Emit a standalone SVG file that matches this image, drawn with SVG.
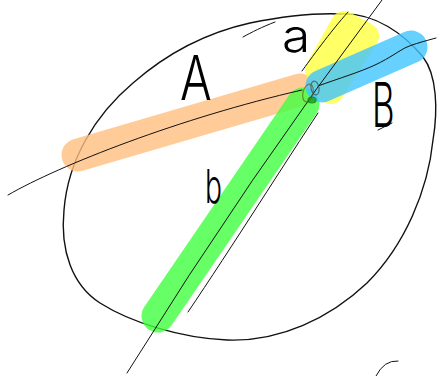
<svg xmlns="http://www.w3.org/2000/svg" width="438" height="376" viewBox="0 0 438 376">
<style>
.bar{fill:none;stroke-linecap:round;opacity:0.8}
.thin{fill:none;stroke:#111;stroke-width:1;stroke-linecap:round}
.lbl{font-family:Inter,"DejaVu Sans",sans-serif;font-weight:300;fill:#000}
</style>
<rect width="438" height="376" fill="#fff"/>
<g id="ellipse">
<path class="thin" d="M340,14 C375,12 405,35 423,57 C437,75 438,110 433,140 C428,190 405,245 367,283 C330,318 280,342 227,340 C180,338 130,322 100,303 C72,285 60,250 64,210 C68,160 95,115 133,83 C165,55 205,33 250,23 C280,17 315,13 340,14 Z" style="stroke-width:1.4"/>
</g>
<g id="bars">
<line id="orange" class="bar" x1="78" y1="155" x2="300" y2="90" stroke="#ffbf80" stroke-width="33"/>
<line id="green" class="bar" x1="158" y1="316" x2="303" y2="104" stroke="#40ff40" stroke-width="33"/>
<path id="yellow" d="M318,70 L344,24 L366,36 L331,91 Z" fill="#ffff40" stroke="#ffff40" stroke-width="26" stroke-linejoin="round" opacity="0.8"/>
<line id="blue" class="bar" x1="322" y1="86" x2="411" y2="47" stroke="#40c4ff" stroke-width="33"/>
</g>
<g id="connectors">
<path class="thin" d="M8,195 C60,165 180,118 302,90"/>
<path class="thin" d="M127,373 Q250,175 382,0"/>
<path class="thin" d="M318,86 C340,78 360,72 375,65 S400,50 407,47 S425,41 436,38"/>
<path class="thin" d="M188,312 C230,250 290,155 318,113"/>
<path class="thin" d="M302,71 C310,60 330,32 348,12"/>
<path class="thin" d="M243,37 C252,32 262,27 275,22"/>
<path class="thin" stroke-width="1.5" d="M376,376 Q384,360 398,361"/>
<path class="thin" stroke-width="1.3" d="M378,130 L392,123"/>
</g>
<g id="scribble" fill="none" stroke-width="1.2">
<ellipse cx="308" cy="93" rx="5" ry="9" transform="rotate(15 308 93)" stroke="#6b5a20" opacity="0.7"/>
<ellipse cx="315" cy="88" rx="4" ry="7" transform="rotate(-10 315 88)" stroke="#2f6060" opacity="0.8"/>
<ellipse cx="312" cy="100" rx="4" ry="3" fill="#1a9a1a" stroke="#1a7a1a" opacity="0.8"/>
</g>
<g id="labels">
<text class="lbl" font-size="62" transform="translate(180,100) scale(0.76,1)">A</text>
<text class="lbl" font-size="46" transform="translate(282,52) scale(1.12,1)">a</text>
<text class="lbl" font-size="62" transform="translate(372,127) scale(0.56,1)">B</text>
<text class="lbl" font-size="47" transform="translate(205,203) scale(0.6,1)">b</text>
</g>
</svg>
